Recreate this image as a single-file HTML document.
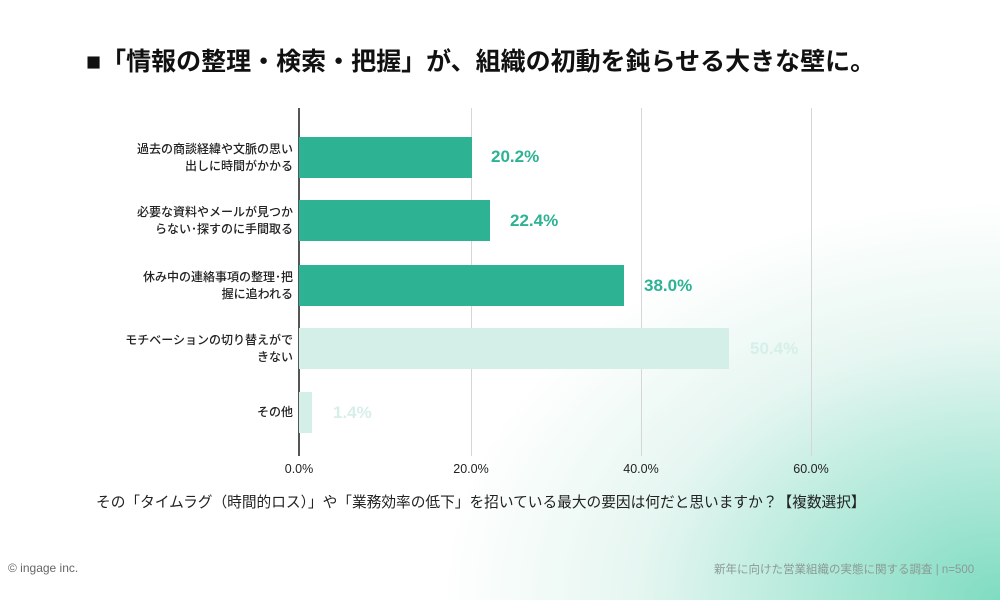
<!DOCTYPE html>
<html><head><meta charset="utf-8"><style>
html,body{margin:0;padding:0}
body{width:1000px;height:600px;position:relative;overflow:hidden;font-family:"Liberation Sans","Noto Sans CJK JP",sans-serif;
background:radial-gradient(ellipse 560px 400px at 1000px 600px,#7fdcc0 0%,#b5eadb 35%,#e6f6f1 65%,rgba(255,255,255,0) 100%),#fff;}
.t{position:absolute;white-space:nowrap}
.lab{position:absolute;right:707px;text-align:right;font-size:12px;line-height:17px;color:#222;font-weight:500}
.bar{position:absolute;left:299px;height:41px}
.val{position:absolute;font-size:17px;font-weight:bold}
.grid{position:absolute;top:108px;height:348px;width:1px;background:#d6d6d6}
.tick{position:absolute;top:462px;font-size:12.5px;color:#222;width:60px;text-align:center}
</style></head><body>
<div class="t" style="left:86px;top:42px;font-size:25px;font-weight:bold;color:#111">■「情報の整理・検索・把握」が、組織の初動を鈍らせる大きな壁に。</div>
<div class="grid" style="left:471px"></div>
<div class="grid" style="left:641px"></div>
<div class="grid" style="left:811px"></div>
<div style="position:absolute;left:298px;top:108px;width:2px;height:348px;background:#555"></div>

<div class="bar" style="top:137px;width:173px;background:#2db294"></div>
<div class="bar" style="top:200px;width:191px;background:#2db294"></div>
<div class="bar" style="top:265px;width:325px;background:#2db294"></div>
<div class="bar" style="top:328px;width:430px;background:#d3efe7"></div>
<div class="bar" style="top:392px;width:13px;background:#d3efe7"></div>

<div class="val" style="left:491px;top:147px;color:#2db294">20.2%</div>
<div class="val" style="left:510px;top:211px;color:#2db294">22.4%</div>
<div class="val" style="left:644px;top:276px;color:#2db294">38.0%</div>
<div class="val" style="left:750px;top:339px;color:#d6efe8">50.4%</div>
<div class="val" style="left:333px;top:403px;color:#d6efe8">1.4%</div>

<div class="lab" style="top:141px">過去の商談経緯や文脈の思い<br>出しに時間がかかる</div>
<div class="lab" style="top:204px">必要な資料やメールが見つか<br>らない･探すのに手間取る</div>
<div class="lab" style="top:269px">休み中の連絡事項の整理･把<br>握に追われる</div>
<div class="lab" style="top:332px">モチベーションの切り替えがで<br>きない</div>
<div class="lab" style="top:404px">その他</div>

<div class="tick" style="left:269px">0.0%</div>
<div class="tick" style="left:441px">20.0%</div>
<div class="tick" style="left:611px">40.0%</div>
<div class="tick" style="left:781px">60.0%</div>

<div class="t" style="left:96px;top:491px;font-size:14.7px;color:#222">その「タイムラグ（時間的ロス）」や「業務効率の低下」を招いている最大の要因は何だと思いますか？【複数選択】</div>
<div class="t" style="left:8px;top:561px;font-size:12px;color:#666">© ingage inc.</div>
<div class="t" style="left:714px;top:561px;font-size:11.5px;color:#8a9a95">新年に向けた営業組織の実態に関する調査 | n=500</div>
</body></html>
